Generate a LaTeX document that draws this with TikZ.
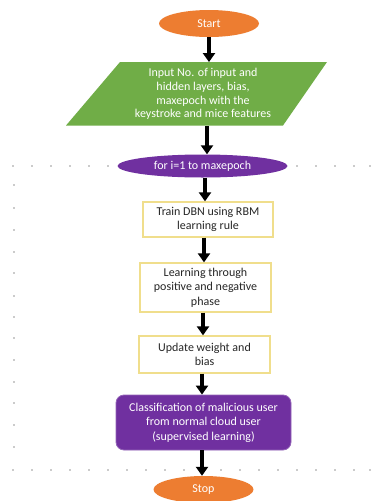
\documentclass[tikz,border=0pt]{standalone}
\usepackage{fontspec}
\setmainfont{Carlito}
\usetikzlibrary{shapes.geometric,arrows.meta}
\definecolor{orng}{RGB}{237,125,49}
\definecolor{grn}{RGB}{112,173,71}
\definecolor{purp}{RGB}{112,48,160}
\definecolor{yel}{RGB}{240,222,140}
\definecolor{dotc}{RGB}{150,150,150}
\begin{document}
\begin{tikzpicture}[x=1pt,y=-1pt,
  txt/.style={font=\fontsize{12}{14.5}\selectfont, align=center, inner sep=0pt},
  term/.style={txt, ellipse, fill=orng, text=white, minimum width=100pt, minimum height=27pt},
  loopst/.style={txt, ellipse, fill=purp, text=white, minimum width=170pt, minimum height=23pt},
  procbox/.style={txt, draw=yel, line width=1.3pt, fill=white, text=black!85},
  classbox/.style={txt, rounded corners=8pt, fill=purp, draw=purp!75, line width=0.8pt, text=white},
  arr/.style={line width=3.2pt, -{Triangle[width=12pt,length=9pt]}},
  dotm/.style={fill=dotc}
]
\useasboundingbox (0,0) rectangle (383,501);
\fill[white] (0,0) rectangle (383,501);

% dotted frame
\foreach \x in {13,32,51,70,89,108,297,316,335,354,370}
  \fill[dotm] (\x,166) circle (0.8);
\foreach \y in {185,208,230,252,273,296,317,338,360,382,403,425,447}
  \fill[dotm] (14,\y) circle (0.8);
\foreach \x in {13,32,51,70,89,108,127,146,165,184,221,240,259,278,297,316,335,354,370}
  \fill[dotm] (\x,470) circle (0.8);

% start
\node[term] (start) at (209,23.5) {Start};

% input parallelogram
\fill[grn] (120,62) -- (327,62) -- (283,125.5) -- (66,125.5) -- cycle;
\node[txt, font=\fontsize{12}{13.6}\selectfont, text=white, minimum height=63.5pt] (input) at (203,94)
  {Input No. of input and\\hidden layers, bias,\\maxepoch with the\\keystroke and mice features};

% loop
\node[loopst] (loop) at (202.5,166) {for i=1 to maxepoch};

% boxes
\node[procbox, minimum width=130pt, minimum height=35pt] (train) at (208,219.5) {Train DBN using RBM\\learning rule};
\node[procbox, minimum width=131pt, minimum height=49pt] (learn) at (205.5,287.5) {Learning through\\positive and negative\\phase};
\node[procbox, minimum width=131pt, minimum height=37pt] (update) at (204.5,354.5) {Update weight and\\bias};
\node[classbox, minimum width=175pt, minimum height=55pt] (class) at (203.5,422.5) {Classification of malicious user\\from normal cloud user\\(supervised learning)};

% stop
\node[term] (stop) at (203.5,489.5) {Stop};

% arrows
\draw[arr] (start.south) -- (start.south |- input.north);
\draw[arr] ([xshift=-2pt]start.south |- input.south) -- ([xshift=-2pt]start.south |- loop.north);
\draw[arr] ([xshift=2.5pt]loop.south) -- ([xshift=2.5pt]loop.south |- train.north);
\draw[arr] ([xshift=-4pt]train.south) -- ([xshift=-4pt]train.south |- learn.north);
\draw[arr] ([xshift=-2.5pt]learn.south) -- ([xshift=-2.5pt]learn.south |- update.north);
\draw[arr] ([xshift=-2.5pt]update.south) -- ([xshift=-2.5pt]update.south |- class.north);
\draw[arr] ([xshift=-1.5pt]class.south) -- ([xshift=-1.5pt]class.south |- stop.north);
\end{tikzpicture}
\end{document}
